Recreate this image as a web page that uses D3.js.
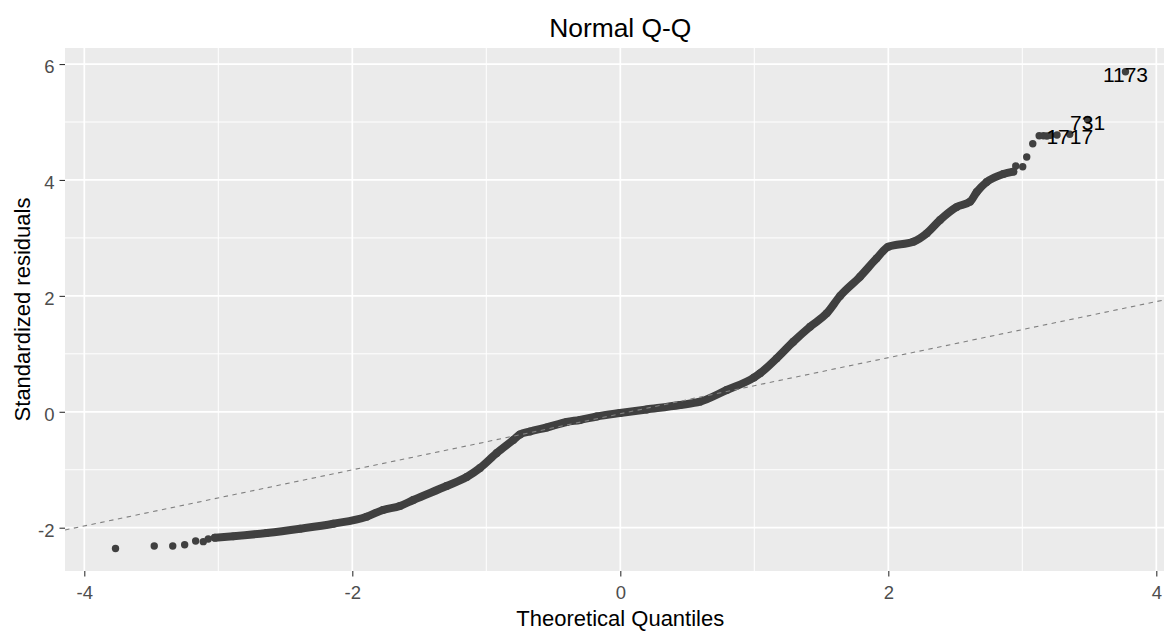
<!DOCTYPE html>
<html lang="en">
<head>
<meta charset="UTF-8">
<title>Normal Q-Q</title>
<script src="https://d3js.org/d3.v7.min.js"></script>
<style>
  html, body { margin: 0; padding: 0; background: #fff; overflow: hidden; }
  svg text { font-family: "Liberation Sans", Arial, sans-serif; }
</style>
</head>
<body>
<script>
// isolated points in the two tails (theoretical quantile, standardized residual)
const tailQ = [-3.767, -3.478, -3.340, -3.251, -3.169, -3.112, -3.075,
               2.951, 3.003, 3.033, 3.078, 3.126, 3.158, 3.184, 3.210, 3.259, 3.354, 3.487, 3.770];
const tailR = [-2.360, -2.315, -2.315, -2.293, -2.229, -2.241, -2.195,
               4.241, 4.229, 4.396, 4.626, 4.762, 4.762, 4.758, 4.772, 4.776, 4.788, 5.043, 5.868];

// the dense body of the sample, read along the middle of the band
const bandQ = [-3.025, -2.888, -2.639, -2.390, -2.142, -1.893, -1.771, -1.644, -1.545, -1.296,
               -1.146, -1.047, -0.922, -0.799, -0.749, -0.674, -0.549, -0.400, -0.301, -0.176,
               -0.002, 0.197, 0.446, 0.595, 0.794, 0.998, 1.043, 1.167, 1.291, 1.416,
               1.540, 1.640, 1.789, 1.913, 2.000, 2.187, 2.287, 2.386, 2.510, 2.610,
               2.660, 2.734, 2.858, 2.933];
const bandR = [-2.172, -2.148, -2.091, -2.017, -1.931, -1.810, -1.694, -1.625, -1.522, -1.280,
               -1.125, -0.970, -0.711, -0.487, -0.392, -0.340, -0.271, -0.176, -0.141, -0.081,
               -0.021, 0.040, 0.117, 0.174, 0.376, 0.592, 0.664, 0.923, 1.209, 1.468,
               1.699, 1.998, 2.331, 2.648, 2.849, 2.935, 3.080, 3.309, 3.533, 3.625,
               3.792, 3.965, 4.103, 4.143];

// labelled observations
const labelIds = ["1173", "731", "1717"];
const labelQ = [3.770, 3.487, 3.354];
const labelR = [5.868, 5.043, 4.788];

// reference line
const qqIntercept = -0.034;
const qqSlope = 0.484;

const xTicks = [-4, -2, 0, 2, 4];
const xMinor = [-3, -1, 1, 3];
const yTicks = [-2, 0, 2, 4, 6];
const yMinor = [-1, 1, 3, 5];

const W = 1164, H = 632;
const pLeft = 65, pTop = 48, pRight = 1175.6, pBottom = 571;
const pointColor = "#404040";

const x = d3.scaleLinear().domain([-4.144, 4.144]).range([pLeft, pRight]);
const y = d3.scaleLinear().domain([-2.747, 6.277]).range([pBottom, pTop]);

const svg = d3.select("body").append("svg")
    .attr("width", W)
    .attr("height", H);

svg.append("defs").append("clipPath").attr("id", "panel")
  .append("rect")
    .attr("x", pLeft).attr("y", pTop)
    .attr("width", pRight - pLeft).attr("height", pBottom - pTop);

// panel background + grid
svg.append("rect")
    .attr("x", pLeft).attr("y", pTop)
    .attr("width", pRight - pLeft).attr("height", pBottom - pTop)
    .attr("fill", "#EBEBEB");

const grid = svg.append("g").attr("clip-path", "url(#panel)");
grid.selectAll(".xminor").data(xMinor).enter().append("line")
    .attr("x1", d => x(d)).attr("x2", d => x(d))
    .attr("y1", pTop).attr("y2", pBottom)
    .attr("stroke", "#fff").attr("stroke-width", 1);
grid.selectAll(".yminor").data(yMinor).enter().append("line")
    .attr("y1", d => y(d)).attr("y2", d => y(d))
    .attr("x1", pLeft).attr("x2", pRight)
    .attr("stroke", "#fff").attr("stroke-width", 1);
grid.selectAll(".xmajor").data(xTicks).enter().append("line")
    .attr("x1", d => x(d)).attr("x2", d => x(d))
    .attr("y1", pTop).attr("y2", pBottom)
    .attr("stroke", "#fff").attr("stroke-width", 1.7);
grid.selectAll(".ymajor").data(yTicks).enter().append("line")
    .attr("y1", d => y(d)).attr("y2", d => y(d))
    .attr("x1", pLeft).attr("x2", pRight)
    .attr("stroke", "#fff").attr("stroke-width", 1.7);

const plot = svg.append("g").attr("clip-path", "url(#panel)");

// the dense band of points
const band = bandQ.map((q, i) => [q, bandR[i]]);
plot.append("path")
    .datum(band)
    .attr("d", d3.line().curve(d3.curveMonotoneX).x(d => x(d[0])).y(d => y(d[1])))
    .attr("fill", "none")
    .attr("stroke", pointColor)
    .attr("stroke-width", 8)
    .attr("stroke-linecap", "round")
    .attr("stroke-linejoin", "round");

plot.selectAll(".pt").data(band).enter().append("circle")
    .attr("cx", d => x(d[0])).attr("cy", d => y(d[1]))
    .attr("r", 3.9).attr("fill", pointColor);

plot.selectAll(".tail").data(tailQ.map((q, i) => [q, tailR[i]])).enter().append("circle")
    .attr("cx", d => x(d[0])).attr("cy", d => y(d[1]))
    .attr("r", 3.7).attr("fill", pointColor);

// dashed reference line across the panel
const xd = x.domain();
plot.append("line")
    .attr("x1", x(xd[0])).attr("y1", y(qqIntercept + qqSlope * xd[0]))
    .attr("x2", x(xd[1])).attr("y2", y(qqIntercept + qqSlope * xd[1]))
    .attr("stroke", "#808080")
    .attr("stroke-width", 1.1)
    .attr("stroke-dasharray", "4.5,4.5");

// labels (731 and 1717 overlap in the reference as well)
svg.selectAll(".lab").data(labelIds).enter().append("text")
    .attr("x", (d, i) => x(labelQ[i]))
    .attr("y", (d, i) => y(labelR[i]) + 10)
    .attr("text-anchor", "middle")
    .attr("font-size", 21)
    .attr("fill", "#000")
    .text(d => d);

// axes
const xAxis = svg.append("g")
    .attr("transform", `translate(0,${pBottom})`)
    .call(d3.axisBottom(x).tickValues(xTicks).tickSize(5.5).tickPadding(4));
const yAxis = svg.append("g")
    .attr("transform", `translate(${pLeft},0)`)
    .call(d3.axisLeft(y).tickValues(yTicks).tickSize(5.5).tickPadding(5));

[xAxis, yAxis].forEach(g => {
  g.select(".domain").remove();
  g.selectAll(".tick line").attr("stroke", "#333333").attr("stroke-width", 1.1);
  g.selectAll(".tick text")
      .attr("fill", "#4D4D4D")
      .attr("font-size", 18.5)
      .attr("font-family", "Liberation Sans, Arial, sans-serif")
      .text(d => String(d)); // plain hyphen minus, as in the reference
});
xAxis.selectAll(".tick text").attr("dy", null).attr("y", 28);
yAxis.selectAll(".tick text").attr("dy", null).attr("y", 8.5);

// titles
svg.append("text")
    .attr("x", (pLeft + pRight) / 2).attr("y", 37)
    .attr("text-anchor", "middle")
    .attr("font-size", 26.4)
    .attr("fill", "#000")
    .text("Normal Q-Q");

svg.append("text")
    .attr("x", (pLeft + pRight) / 2).attr("y", 626)
    .attr("text-anchor", "middle")
    .attr("font-size", 22)
    .attr("fill", "#000")
    .text("Theoretical Quantiles");

svg.append("text")
    .attr("transform", `translate(30,${(pTop + pBottom) / 2}) rotate(-90)`)
    .attr("text-anchor", "middle")
    .attr("font-size", 22)
    .attr("fill", "#000")
    .text("Standardized residuals");
</script>
</body>
</html>
